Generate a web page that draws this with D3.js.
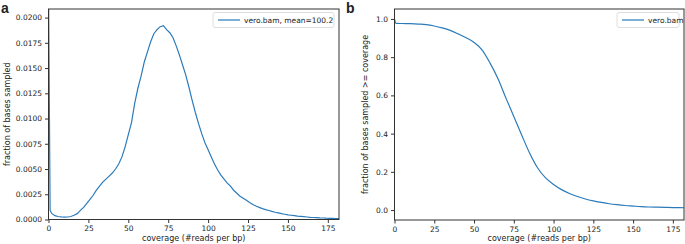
<!DOCTYPE html>
<html>
<head>
<meta charset="utf-8">
<script src="https://cdn.jsdelivr.net/npm/d3@7"></script>
<style>
body { margin:0; background:#fff; }
svg text { font-family: "DejaVu Sans", sans-serif; fill:#222; }
.axis path, .axis line { stroke:#333; }
</style>
</head>
<body>
<div id="graph"></div>
<script>
// coverage histogram (panel a)
let covA = [0,1,2,4,6,8,10,12,14,16,18,20,22,24,26,28,30,32,34,36,38,40,42,44,46,48,50,
	52,54,56,58,60,62,64,66,68,70,72,74,76,78,80,82,84,86,88,90,92,94,96,98,100,
	102,104,106,108,110,112,114,116,118,120,122,124,126,128,130,132,134,136,138,140,
	142,144,146,148,150,152,154,156,158,160,162,164,166,168,170,172,174,176,178,180,182];
let fracA = [0.0235,0.0009,0.0006,0.00038,0.0003,0.00026,0.00024,0.00025,0.0003,0.00042,0.00058,
	0.0009,0.0012,0.0016,0.0020,0.0024,0.0029,0.0033,0.0037,0.0040,0.0043,0.0046,0.0050,0.0055,
	0.0062,0.0072,0.0084,0.0096,0.0115,0.0130,0.0142,0.0156,0.0166,0.0176,0.0184,0.0188,0.0191,
	0.0192,0.0188,0.0185,0.0180,0.0172,0.0163,0.0153,0.0143,0.0131,0.0118,0.0106,0.0095,0.0085,
	0.0076,0.0069,0.0062,0.0055,0.0049,0.0044,0.0040,0.0036,0.0033,0.0029,0.0026,0.0023,0.0021,
	0.0019,0.00168,0.00148,0.00133,0.0012,0.00108,0.00098,0.00089,0.0008,0.00072,0.00065,0.00058,
	0.00052,0.00046,0.00042,0.00038,0.00034,0.00031,0.00028,0.00025,0.00022,0.0002,0.00018,
	0.00016,0.00015,0.00013,0.00012,0.00011,0.0001,0.0001];

// cumulative fraction (panel b)
let covB = [0,1,5,10,15,20,25,30,35,40,45,50,55,60,65,70,75,80,85,90,95,100,105,110,115,
	120,125,130,135,140,145,150,155,160,165,170,175,182];
let fracB = [1.0,0.977,0.976,0.975,0.973,0.970,0.963,0.953,0.940,0.922,0.902,0.877,0.838,
	0.770,0.688,0.587,0.490,0.392,0.297,0.220,0.168,0.134,0.107,0.087,0.071,0.058,0.048,
	0.040,0.033,0.028,0.024,0.021,0.018,0.016,0.015,0.014,0.013,0.012];

let ticksA = [0,0.0025,0.005,0.0075,0.01,0.0125,0.015,0.0175,0.02];
let ticksB = [0,0.2,0.4,0.6,0.8,1.0];
let ticksX = [0,25,50,75,100,125,150,175];

let width=685, height=244;
let lineColor="#2b7bba";

let svg=d3.select("div#graph")
	.append("svg")
	.attr("width", width)
	.attr("height", height);

function drawPanel(opt) {
	let xScale = d3.scaleLinear()
		.domain([0,182])
		.range([opt.left, opt.right]);
	let yScale = d3.scaleLinear()
		.domain(opt.yDomain)
		.range([opt.bottom, opt.top]);

	let xAxis = d3.axisBottom(xScale).tickValues(ticksX).tickSize(3.5).tickPadding(3);
	let yAxis = d3.axisLeft(yScale).tickValues(opt.yTicks).tickFormat(opt.yFormat).tickSize(3.5).tickPadding(3);

	svg.append("clipPath").attr("id", opt.id+"clip")
		.append("rect")
		.attr("x", opt.left).attr("y", opt.top)
		.attr("width", opt.right-opt.left).attr("height", opt.bottom-opt.top);

	let line = d3.line()
		.x(d => xScale(d[0]))
		.y(d => yScale(d[1]))
		.curve(opt.curve);

	svg.append("path")
		.datum(opt.xs.map((x,i) => [x, opt.ys[i]]))
		.attr("clip-path", `url(#${opt.id}clip)`)
		.attr("d", line)
		.attr("fill","none")
		.attr("stroke", lineColor)
		.attr("stroke-width", 1.2);

	let gx = svg.append("g")
		.attr("class","x axis")
		.attr("transform", `translate(0, ${opt.bottom})`)
		.call(xAxis);
	gx.select(".domain").remove();
	gx.selectAll("text").attr("font-size", 7.5);

	let gy = svg.append("g")
		.attr("class","y axis")
		.attr("transform", `translate(${opt.left}, 0)`)
		.call(yAxis);
	gy.select(".domain").remove();
	gy.selectAll("text").attr("font-size", 7.5);

	// frame
	svg.append("rect")
		.attr("x", opt.left).attr("y", opt.top)
		.attr("width", opt.right-opt.left).attr("height", opt.bottom-opt.top)
		.attr("fill","none")
		.attr("stroke","#333")
		.attr("stroke-width",1);

	svg.append("text")
		.attr("x", (opt.left+opt.right)/2)
		.attr("y", 241)
		.attr("text-anchor","middle")
		.attr("font-size", 8)
		.text("coverage (#reads per bp)");

	svg.append("text")
		.attr("transform", `translate(${opt.yLabelX}, ${(opt.top+opt.bottom)/2}) rotate(-90)`)
		.attr("text-anchor","middle")
		.attr("font-size", 8)
		.text(opt.yLabel);

	svg.append("text")
		.attr("x", opt.letterX).attr("y", 13)
		.style("font-family", "'Liberation Sans', Arial, sans-serif")
		.attr("font-weight","bold")
		.attr("font-size", 14)
		.text(opt.letter);

	// legend
	let lg = svg.append("g");
	lg.append("rect")
		.attr("x", opt.legX).attr("y", 12.5)
		.attr("width", opt.legW).attr("height", 15)
		.attr("rx", 2)
		.attr("fill","#fff")
		.attr("stroke","#d5d5d5")
		.attr("stroke-width",0.8);
	lg.append("line")
		.attr("x1", opt.legX+5).attr("x2", opt.legX+27)
		.attr("y1", 20).attr("y2", 20)
		.attr("stroke", lineColor)
		.attr("stroke-width", 1.2);
	lg.append("text")
		.attr("x", opt.legX+31).attr("y", 23)
		.attr("font-size", 7.5)
		.text(opt.legText);
}

drawPanel({
	id:"a", left:48.5, right:339, top:9, bottom:219.5,
	yDomain:[0,0.02085], yTicks:ticksA, yFormat:d3.format(".4f"),
	xs:covA, ys:fracA, curve:d3.curveLinear,
	yLabel:"fraction of bases sampled", yLabelX:10,
	letter:"a", letterX:1,
	legX:213, legW:121, legText:"vero.bam, mean=100.2"
});

drawPanel({
	id:"b", left:394.5, right:684, top:9, bottom:220,
	yDomain:[-0.052,1.052], yTicks:ticksB, yFormat:d3.format(".1f"),
	xs:covB, ys:fracB, curve:d3.curveMonotoneX,
	yLabel:"fraction of bases sampled >= coverage", yLabelX:368,
	letter:"b", letterX:346,
	legX:617, legW:62, legText:"vero.bam"
});
</script>
</body>
</html>
